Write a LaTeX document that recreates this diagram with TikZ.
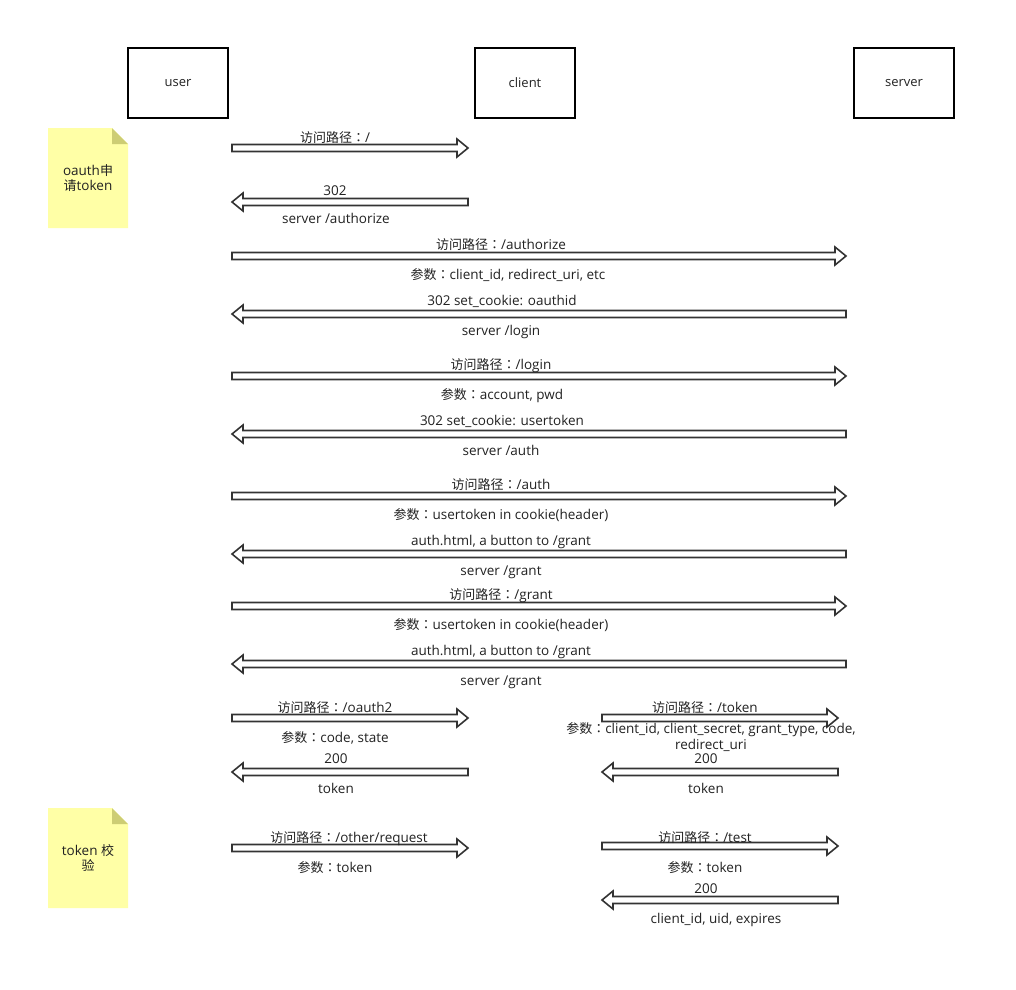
\documentclass[tikz,border=0pt]{standalone}
\usepackage{fontspec}
\setmainfont{Open Sans}
\newfontfamily\cjk{Noto Sans CJK SC}
\newfontfamily\cjktc{Noto Sans CJK TC}
\usetikzlibrary{calc}
\definecolor{txt}{HTML}{222222}
\definecolor{notefill}{HTML}{FFFFA6}
\definecolor{notefold}{HTML}{CDCD74}
\newcommand{\fw}{{\fontsize{13}{16}\cjk 访问路径}{\fontsize{13}{16}\cjktc ：}}
\newcommand{\cs}{{\fontsize{13}{16}\cjk 参数}{\fontsize{13}{16}\cjktc ：}}
\tikzset{
  actor/.style={draw=black, line width=1.3pt, minimum width=100pt, minimum height=70pt, inner sep=0pt, font=\fontsize{13}{15}\selectfont, text=txt},
  lbl/.style={inner sep=0pt, text height=9pt, text depth=0pt, font=\fontsize{13.5}{16}\selectfont, text=txt, yshift=-1pt},
  blk/.style={draw=black!80, line width=1.6pt, fill=white, line join=miter},
  notetext/.style={inner sep=0pt, align=center, font=\fontsize{13.5}{15.5}\selectfont, text=txt}
}
\newcommand{\rarr}[2]{\draw[blk] ($(#1)+(0,-3.5)$) -- ($(#2)+(-11,-3.5)$) -- ($(#2)+(-11,-9)$) -- (#2) -- ($(#2)+(-11,9)$) -- ($(#2)+(-11,3.5)$) -- ($(#1)+(0,3.5)$) -- cycle;}
\newcommand{\larr}[2]{\draw[blk] ($(#1)+(0,-3.5)$) -- ($(#2)+(11,-3.5)$) -- ($(#2)+(11,-9)$) -- (#2) -- ($(#2)+(11,9)$) -- ($(#2)+(11,3.5)$) -- ($(#1)+(0,3.5)$) -- cycle;}
\newcommand{\note}[2]{%
  \fill[notefill] (#1,#2) -- ++(64,0) -- ++(16,16) -- ++(0,84) -- ++(-80,0) -- cycle;
  \fill[notefold] ($(#1,#2)+(64,0)$) -- ++(0,16) -- ++(16,0) -- cycle;}
\begin{document}
\begin{tikzpicture}[x=1pt, y=-1pt]
\useasboundingbox[fill=white] (0,0) rectangle (1016,989);
% actors
\node[actor] (user) at (178,83) {user};
\node[actor] (client) at (525,83) {client};
\node[actor] (server) at (904,83) {server};
% notes
\note{48}{128}
\node[notetext] (n1) at (88,178) {oauth{\fontsize{13}{15}\cjk 申}\\{\fontsize{13}{15}\cjk 请}token};
\note{48}{808}
\node[notetext] (n2) at (88,858) {token {\fontsize{13}{15}\cjk 校}\\{\fontsize{13}{15}\cjk 验}};
% coordinates
\foreach \i/\y in {1/148,2/202,3/256,4/314,5/376,6/434,7/496,8/554,9/606,10/664,11/718,12/772,15/848}{
  \coordinate (u\i) at (232,\y);
  \coordinate (c\i) at (468,\y);
  \coordinate (s\i) at (846,\y);
}
\foreach \i/\y in {13/718,14/772,16/846,17/900}{
  \coordinate (l\i) at (602,\y);
  \coordinate (r\i) at (838,\y);
}
% arrows
\rarr{u1}{c1}
\larr{c2}{u2}
\rarr{u3}{s3}
\larr{s4}{u4}
\rarr{u5}{s5}
\larr{s6}{u6}
\rarr{u7}{s7}
\larr{s8}{u8}
\rarr{u9}{s9}
\larr{s10}{u10}
\rarr{u11}{c11}
\larr{c12}{u12}
\rarr{l13}{r13}
\larr{r14}{l14}
\rarr{u15}{c15}
\rarr{l16}{r16}
\larr{r17}{l17}
% labels
\node[lbl] (t1) at (335,137) {\fw/};
\node[lbl] (t2a) at (335,190) {302};
\node[lbl] (t2b) at (336,218) {server /authorize};
\node[lbl] (t3a) at (501,244) {\fw/authorize};
\node[lbl] (t3b) at (508,274) {\cs client\_id, redirect\_uri, etc};
\node[lbl] (t4a) at (502,300) {302 set\_cookie: oauthid};
\node[lbl] (t4b) at (501,330) {server /login};
\node[lbl] (t5a) at (501,364) {\fw/login};
\node[lbl] (t5b) at (502,394) {\cs account, pwd};
\node[lbl] (t6a) at (502,420) {302 set\_cookie: usertoken};
\node[lbl] (t6b) at (501,450) {server /auth};
\node[lbl] (t7a) at (501,484) {\fw/auth};
\node[lbl] (t7b) at (501,514) {\cs usertoken in cookie(header)};
\node[lbl] (t8a) at (501,540) {auth.html, a button to /grant};
\node[lbl] (t8b) at (501,570) {server /grant};
\node[lbl] (t9a) at (501,594) {\fw/grant};
\node[lbl] (t9b) at (501,624) {\cs usertoken in cookie(header)};
\node[lbl] (t10a) at (501,650) {auth.html, a button to /grant};
\node[lbl] (t10b) at (501,680) {server /grant};
\node[lbl] (t11a) at (335,707) {\fw/oauth2};
\node[lbl] (t11b) at (335,737) {\cs code, state};
\node[lbl] (t12a) at (336,758) {200};
\node[lbl] (t12b) at (336,788) {token};
\node[lbl] (t13a) at (705,707) {\fw/token};
\node[inner sep=0pt, align=center, font=\fontsize{13.5}{16}\selectfont, text=txt] (t13b) at (711,737) {\cs client\_id, client\_secret, grant\_type, code,\\redirect\_uri};
\node[lbl] (t14a) at (706,758) {200};
\node[lbl] (t14b) at (706,788) {token};
\node[lbl] (t15a) at (349,837) {\fw/other/request};
\node[lbl] (t15b) at (335,867) {\cs token};
\node[lbl] (t16a) at (705,837) {\fw/test};
\node[lbl] (t16b) at (705,867) {\cs token};
\node[lbl] (t17a) at (706,888) {200};
\node[lbl] (t17b) at (716,918) {client\_id, uid, expires};
\end{tikzpicture}
\end{document}
